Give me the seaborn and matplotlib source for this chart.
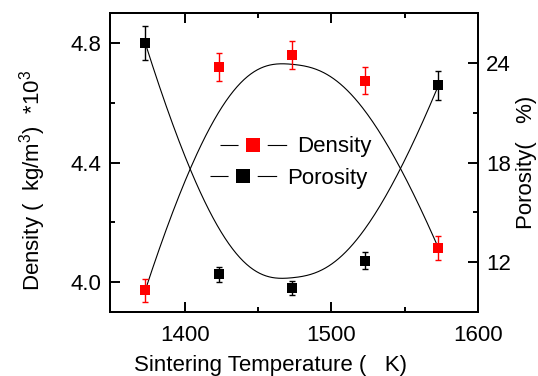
import numpy as np
import matplotlib
matplotlib.use("Agg")
import matplotlib.pyplot as plt
from matplotlib.lines import Line2D
from matplotlib.ticker import FixedLocator
import seaborn as sns

# data
temperature = [1373, 1423, 1473, 1523, 1573]
density = [3.972, 4.718, 4.761, 4.674, 4.114]
density_err = [0.04, 0.047, 0.047, 0.046, 0.04]
porosity = [25.2, 11.26, 10.44, 12.1, 22.64]
porosity_err = [1.0, 0.45, 0.4, 0.5, 0.86]


def bspline(px, py, n=300, k=3):
    """clamped cubic B-spline through the points (Origin style smoothing)"""
    px = np.asarray(px, float)
    py = np.asarray(py, float)
    m = len(px)
    knots = np.concatenate([[0.0] * k, np.linspace(0, 1, m - k + 1), [1.0] * k])
    t = np.linspace(0, 1 - 1e-9, n)

    def basis(i, d):
        if d == 0:
            return ((knots[i] <= t) & (t < knots[i + 1])).astype(float)
        out = np.zeros_like(t)
        den1 = knots[i + d] - knots[i]
        den2 = knots[i + d + 1] - knots[i + 1]
        if den1 > 0:
            out += (t - knots[i]) / den1 * basis(i, d - 1)
        if den2 > 0:
            out += (knots[i + d + 1] - t) / den2 * basis(i + 1, d - 1)
        return out

    B = np.array([basis(i, k) for i in range(m)])
    return B.T @ px, B.T @ py


sns.set_style("ticks", {'axes.edgecolor': 'black', 'xtick.color': 'black',
                        'ytick.color': 'black', 'text.color': 'black',
                        'axes.labelcolor': 'black'})
plt.rcParams['font.family'] = ['Liberation Sans', 'DejaVu Sans']
plt.rcParams['mathtext.fontset'] = 'custom'
plt.rcParams['mathtext.rm'] = 'Liberation Sans'
plt.rcParams['mathtext.it'] = 'Liberation Sans:italic'
plt.rcParams['lines.scale_dashes'] = False

FS = 16

fig = plt.figure(figsize=(5.38, 3.76), dpi=100)
ax = fig.add_axes([0.2045, 0.1702, 0.684, 0.7952])
ax2 = ax.twinx()

# density, left axis
sx, sy = bspline(temperature, density)
sns.lineplot(x=sx, y=sy, ax=ax, color='k', lw=0.8, sort=False, estimator=None)
ax.errorbar(temperature, density, yerr=density_err, fmt='none', ecolor='red',
            elinewidth=1, capsize=2.5, capthick=1)
sns.scatterplot(x=temperature, y=density, ax=ax, marker='s', color='red',
                s=58, linewidth=0, zorder=3)

# porosity, right axis
sx, sy = bspline(temperature, porosity)
sns.lineplot(x=sx, y=sy, ax=ax2, color='k', lw=0.8, sort=False, estimator=None)
ax2.errorbar(temperature, porosity, yerr=porosity_err, fmt='none', ecolor='black',
             elinewidth=1, capsize=2.5, capthick=1)
sns.scatterplot(x=temperature, y=porosity, ax=ax2, marker='s', color='black',
                s=58, linewidth=0, zorder=3)

ax.set_xlim(1349, 1600)
ax.set_ylim(3.9, 4.9)
ax2.set_ylim(9, 27)

ax.set_xticks([1400, 1500, 1600])
ax.xaxis.set_minor_locator(FixedLocator([1450, 1550]))
ax.set_yticks([4.0, 4.4, 4.8])
ax.yaxis.set_minor_locator(FixedLocator([4.2, 4.6]))
ax2.set_yticks([12, 18, 24])
ax2.yaxis.set_minor_locator(FixedLocator([15, 21]))

for a in (ax, ax2):
    a.tick_params(which='both', direction='in', width=1.4, labelsize=FS, pad=6)
    a.tick_params(which='major', length=7)
    a.tick_params(which='minor', length=3.5)
    for s in a.spines.values():
        s.set_visible(True)
        s.set_linewidth(1.4)
ax.tick_params(axis='x', which='both', top=True, bottom=True, pad=9)
ax.tick_params(axis='y', which='both', left=True, right=False)
ax2.tick_params(axis='y', which='both', left=False, right=True)

ax.set_xlabel("Sintering Temperature (   K)", fontsize=FS)
ax.xaxis.set_label_coords(0.435, -0.143)
ax.set_ylabel(r"Density (  kg/m$^{3}$)  *10$^{3}$", fontsize=FS)
ax.yaxis.set_label_coords(-0.168, 0.44)
ax2.set_ylabel("Porosity(   %)", fontsize=FS)
ax2.yaxis.set_label_coords(1.103, 0.5)

# legends: line - marker - line
dash = (13.0, 21.0, 14.0, 20.0)
dens_h = (Line2D([], [], color='k', lw=0.8, dashes=dash),
          Line2D([], [], ls='none', marker='s', ms=10, color='red', mew=0))
poro_h = (Line2D([], [], color='k', lw=0.8, dashes=dash),
          Line2D([], [], ls='none', marker='s', ms=10, color='black', mew=0))
leg_kw = dict(loc='center left', frameon=False, handlelength=3.0,
              handletextpad=0.45, borderpad=0, borderaxespad=0, fontsize=FS)
leg1 = ax2.legend([dens_h], ['Density'], bbox_to_anchor=(0.299, 0.552), **leg_kw)
ax2.add_artist(leg1)
ax2.legend([poro_h], ['Porosity'], bbox_to_anchor=(0.272, 0.448), **leg_kw)

fig.savefig("out.png", dpi=100)
